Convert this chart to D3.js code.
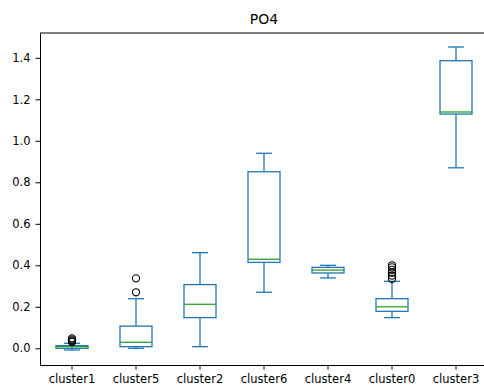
<!DOCTYPE html>
<html>
<head>
<meta charset="utf-8">
<script src="https://cdn.jsdelivr.net/npm/d3@7"></script>
<style>
  body { margin: 0; background: #fff; }
  svg { display: block; font-family: "DejaVu Sans", sans-serif; }
</style>
</head>
<body>
<svg id="chart" width="484" height="387"></svg>
<script>
// box statistics
const clusters = ["cluster1", "cluster5", "cluster2", "cluster6", "cluster4", "cluster0", "cluster3"];
const whiskerLo = [-0.008, 0.000, 0.008, 0.270, 0.339, 0.148, 0.870];
const q1 =        [ 0.000, 0.008, 0.148, 0.414, 0.363, 0.178, 1.129];
const median =    [ 0.008, 0.029, 0.212, 0.429, 0.377, 0.200, 1.139];
const q3 =        [ 0.013, 0.107, 0.307, 0.851, 0.390, 0.239, 1.386];
const whiskerHi = [ 0.024, 0.239, 0.461, 0.940, 0.400, 0.323, 1.452];
const fliers = [
  [0.030, 0.036, 0.042, 0.048],
  [0.270, 0.337],
  [],
  [],
  [],
  [0.335, 0.350, 0.365, 0.378, 0.390, 0.400],
  []
];
const yTicks = [0.0, 0.2, 0.4, 0.6, 0.8, 1.0, 1.2, 1.4];

const svg = d3.select("#chart");
const margin = { top: 33, left: 40 };
const plotW = 448, plotH = 332;

const x = d3.scaleBand()
  .domain(clusters)
  .range([margin.left, margin.left + plotW])
  .padding(0);

const y = d3.scaleLinear()
  .domain([-0.0805, 1.5196])
  .range([margin.top + plotH, margin.top]);

const boxW = x.bandwidth() * 0.5;
const capW = boxW * 0.5;
const blue = "#1f77b4", green = "#2ca02c";
const lw = 1.3;

const g = svg.append("g");

clusters.forEach((c, i) => {
  const cx = x(c) + x.bandwidth() / 2;

  // whiskers
  [[whiskerLo[i], q1[i]], [q3[i], whiskerHi[i]]].forEach(([a, b]) => {
    g.append("line")
      .attr("x1", cx).attr("x2", cx)
      .attr("y1", y(a)).attr("y2", y(b))
      .attr("stroke", blue).attr("stroke-width", lw);
  });

  // caps
  [whiskerLo[i], whiskerHi[i]].forEach(v => {
    g.append("line")
      .attr("x1", cx - capW / 2).attr("x2", cx + capW / 2)
      .attr("y1", y(v)).attr("y2", y(v))
      .attr("stroke", blue).attr("stroke-width", lw);
  });

  // box
  g.append("rect")
    .attr("x", cx - boxW / 2)
    .attr("y", y(q3[i]))
    .attr("width", boxW)
    .attr("height", y(q1[i]) - y(q3[i]))
    .attr("fill", "none")
    .attr("stroke", blue)
    .attr("stroke-width", lw);

  // median
  g.append("line")
    .attr("x1", cx - boxW / 2).attr("x2", cx + boxW / 2)
    .attr("y1", y(median[i])).attr("y2", y(median[i]))
    .attr("stroke", green).attr("stroke-width", lw);

  // outliers
  fliers[i].forEach(v => {
    g.append("circle")
      .attr("cx", cx).attr("cy", y(v))
      .attr("r", 3.6)
      .attr("fill", "none")
      .attr("stroke", "black")
      .attr("stroke-width", 1.1);
  });
});

// axes
const xAxis = svg.append("g")
  .attr("transform", `translate(0,${margin.top + plotH})`)
  .call(d3.axisBottom(x).tickSize(4.5).tickSizeOuter(0).tickPadding(5));

const yAxis = svg.append("g")
  .attr("transform", `translate(${margin.left},0)`)
  .call(d3.axisLeft(y).tickValues(yTicks).tickFormat(d3.format(".1f"))
    .tickSize(4.5).tickSizeOuter(0).tickPadding(5));

[xAxis, yAxis].forEach(a => {
  a.selectAll("text").attr("font-size", 11.5).attr("fill", "black")
    .attr("font-family", "DejaVu Sans, sans-serif");
  a.selectAll("line").attr("stroke", "black").attr("stroke-width", 1);
  a.select(".domain").attr("stroke", "black").attr("stroke-width", 1);
});

// top spine
svg.append("line")
  .attr("x1", margin.left).attr("x2", margin.left + plotW)
  .attr("y1", margin.top).attr("y2", margin.top)
  .attr("stroke", "black").attr("stroke-width", 1);

// title
svg.append("text")
  .attr("x", margin.left + plotW / 2)
  .attr("y", 24)
  .attr("text-anchor", "middle")
  .attr("font-size", 14)
  .attr("fill", "black")
  .text("PO4");
</script>
</body>
</html>
